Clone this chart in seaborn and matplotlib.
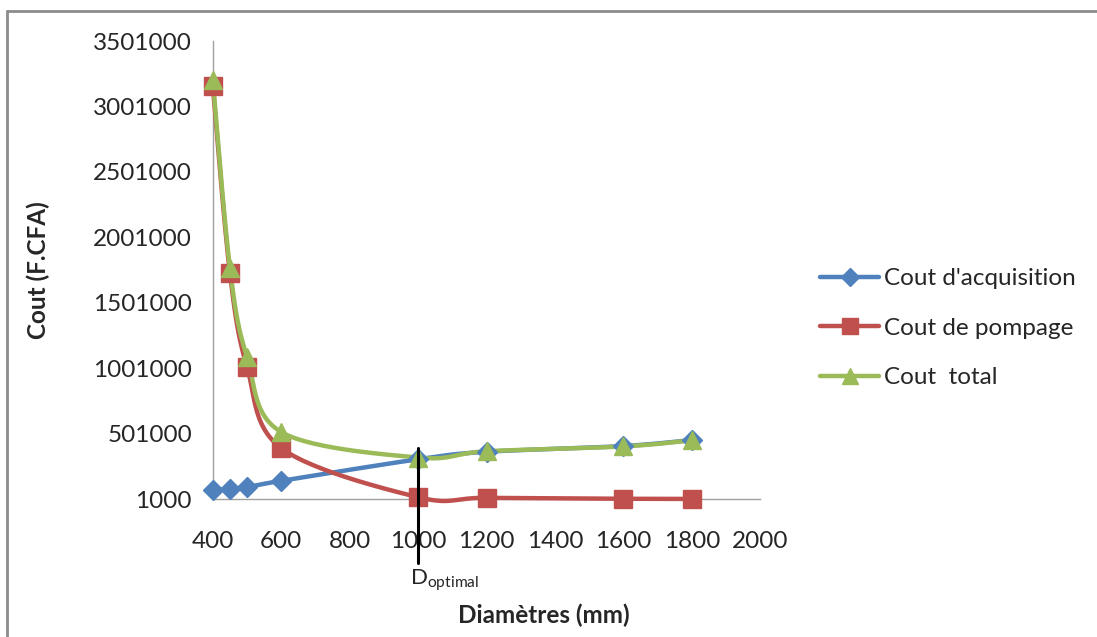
import numpy as np
import pandas as pd
import matplotlib
matplotlib.use("Agg")
import matplotlib.pyplot as plt
from matplotlib.lines import Line2D
import seaborn as sns

# ---- data ----
diametres = [400, 450, 500, 600, 1000, 1200, 1600, 1800]
cout_acquisition = [70000, 78000, 92000, 140000, 305000, 362000, 406000, 452000]
cout_pompage = [3157000, 1728000, 1009000, 390000, 15000, 10000, 3000, 2000]
cout_total = [3203000, 1766000, 1086000, 513000, 318000, 366000, 403000, 450000]
series_names = ["Cout d'acquisition", "Cout de pompage", "Cout  total"]
x_ticks = [400, 600, 800, 1000, 1200, 1400, 1600, 1800, 2000]
y_ticks = [1000, 501000, 1001000, 1501000, 2001000, 2501000, 3001000, 3501000]
d_optimal = 1000

colors = ["#4F81BD", "#C0504D", "#9BBB59"]
markers = ["D", "s", "^"]
msizes = [10.5, 13, 13.5]

sns.set_style("white")
plt.rcParams["font.family"] = ["Lato", "DejaVu Sans"]
plt.rcParams["mathtext.fontset"] = "custom"
plt.rcParams["mathtext.rm"] = "Lato"


def smooth(xs, ys, n=30):
    """Excel-like smoothed line (Catmull-Rom Bezier) through the points."""
    xs = np.asarray(xs, float)
    ys = np.asarray(ys, float)
    P = np.column_stack([xs, ys])
    out = []
    for i in range(len(P) - 1):
        p0 = P[i - 1] if i > 0 else P[i]
        p1 = P[i]
        p2 = P[i + 1]
        p3 = P[i + 2] if i + 2 < len(P) else P[i + 1]
        c1 = p1 + (p2 - p0) / 6.0
        c2 = p2 - (p3 - p1) / 6.0
        t = np.linspace(0, 1, n)[:, None]
        seg = ((1 - t) ** 3) * p1 + 3 * ((1 - t) ** 2) * t * c1 + 3 * (1 - t) * t ** 2 * c2 + t ** 3 * p2
        out.append(seg if i == 0 else seg[1:])
    S = np.vstack(out)
    return S[:, 0], S[:, 1]


fig = plt.figure(figsize=(10.97, 6.37), dpi=100)
ax = fig.add_axes([0.194, 0.2166, 0.499, 0.719])

all_series = [cout_acquisition, cout_pompage, cout_total]
for name, vals, c, m, ms in zip(series_names, all_series, colors, markers, msizes):
    sx, sy = smooth(diametres, vals)
    df = pd.DataFrame({"x": sx, "y": sy})
    sns.lineplot(data=df, x="x", y="y", ax=ax, color=c, linewidth=3.2, sort=False,
                 estimator=None, clip_on=False, zorder=3)
    ax.plot(diametres, vals, linestyle="none", marker=m, markersize=ms, color=c,
            markeredgecolor=c, clip_on=False, zorder=4)

ax.set_xlim(400, 2000)
ax.set_ylim(1000, 3501000)
ax.set_xticks(x_ticks)
ax.set_yticks(y_ticks)
ax.set_xticklabels([str(v) for v in x_ticks], fontsize=17.5)
ax.set_yticklabels([str(v) for v in y_ticks], fontsize=17.5)
ax.tick_params(axis="x", length=0, pad=23)
ax.tick_params(axis="y", length=0, pad=15)
for side in ["top", "right"]:
    ax.spines[side].set_visible(False)
for side in ["left", "bottom"]:
    ax.spines[side].set_color("#A0A0A0")
    ax.spines[side].set_linewidth(1.0)
ax.set_xlabel("Diamètres (mm)", fontsize=17.5, fontweight="bold")
ax.set_ylabel("Cout (F.CFA)", fontsize=17.5, fontweight="bold")
ax.xaxis.set_label_coords(0.605, -0.228)
ax.yaxis.set_label_coords(-0.298, 0.5)

# D optimal marker line
trans = ax.get_xaxis_transform()
ax.plot([d_optimal, d_optimal], [0.111, -0.14], color="black", linewidth=2.2,
        transform=trans, clip_on=False, zorder=5)
ax.text(d_optimal - 24, -0.178, r"D$_{\mathrm{optimal}}$", transform=trans,
        fontsize=16, ha="left", va="center")

# legend
handles = [Line2D([0], [0], color=c, marker=m, markersize=ms * 0.9, linewidth=3.2)
           for c, m, ms in zip(colors, markers, msizes)]
fig.legend(handles, series_names, loc="upper left", bbox_to_anchor=(0.728, 0.613),
           frameon=False, fontsize=17.5, handlelength=2.4, handletextpad=0.2,
           labelspacing=1.17)

# outer frame (top and left edges)
fig.add_artist(Line2D([7 / 1097, 1.0], [1 - 11 / 637, 1 - 11 / 637],
                      transform=fig.transFigure, color="#8C8C8C", linewidth=2))
fig.add_artist(Line2D([7 / 1097, 7 / 1097], [0.0, 1 - 11 / 637],
                      transform=fig.transFigure, color="#8C8C8C", linewidth=2))

fig.savefig("out.png", dpi=100)
